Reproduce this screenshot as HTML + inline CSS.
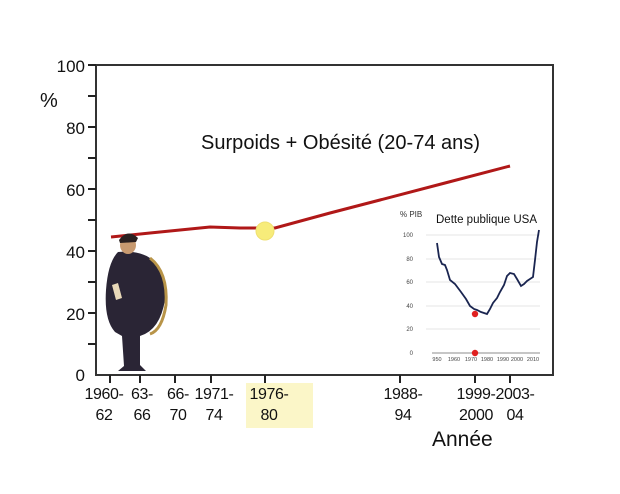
<!DOCTYPE html>
<html><head><meta charset="utf-8"><style>
body{margin:0;background:#fff;}
svg{display:block;font-family:"Liberation Sans",sans-serif;}
</style></head><body>
<svg width="620" height="494" viewBox="0 0 620 494">
<rect width="620" height="494" fill="#fff"/>
<rect x="246" y="383" width="67" height="45" fill="#fbf6c8"/>
<rect x="96" y="65" width="457" height="310" fill="none" stroke="#333" stroke-width="2"/>
<g stroke="#222" stroke-width="2">
<line x1="88" y1="65" x2="96" y2="65"/><line x1="88" y1="96" x2="96" y2="96"/>
<line x1="88" y1="127" x2="96" y2="127"/><line x1="88" y1="158" x2="96" y2="158"/>
<line x1="88" y1="189" x2="96" y2="189"/><line x1="88" y1="220" x2="96" y2="220"/>
<line x1="88" y1="251" x2="96" y2="251"/><line x1="88" y1="282" x2="96" y2="282"/>
<line x1="88" y1="313" x2="96" y2="313"/><line x1="88" y1="344" x2="96" y2="344"/>
<line x1="110" y1="375" x2="110" y2="383"/><line x1="140" y1="375" x2="140" y2="383"/>
<line x1="175" y1="375" x2="175" y2="383"/><line x1="211" y1="375" x2="211" y2="383"/>
<line x1="265" y1="375" x2="265" y2="383"/><line x1="400" y1="375" x2="400" y2="383"/>
<line x1="475" y1="375" x2="475" y2="383"/><line x1="510" y1="375" x2="510" y2="383"/>
</g>
<g font-size="17" fill="#111" text-anchor="end">
<text x="85" y="72">100</text><text x="85" y="134">80</text><text x="85" y="196">60</text>
<text x="85" y="258">40</text><text x="85" y="320">20</text><text x="85" y="381">0</text>
</g>
<text x="40" y="107" font-size="20" fill="#111">%</text>
<g font-size="16" fill="#111" text-anchor="middle" letter-spacing="-0.4">
<text x="104" y="399">1960-</text><text x="104" y="420">62</text>
<text x="142" y="399">63-</text><text x="142" y="420">66</text>
<text x="178" y="399">66-</text><text x="178" y="420">70</text>
<text x="214" y="399">1971-</text><text x="214" y="420">74</text>
<text x="269" y="399">1976-</text><text x="269" y="420">80</text>
<text x="403" y="399">1988-</text><text x="403" y="420">94</text>
<text x="476" y="399">1999-</text><text x="476" y="420">2000</text>
<text x="515" y="399">2003-</text><text x="515" y="420">04</text>
</g>
<text x="432" y="446" font-size="21" fill="#111">Année</text>
<text x="201" y="149" font-size="20" fill="#111" textLength="279">Surpoids + Obésité (20-74 ans)</text>
<path d="M111,237 L150,233 L210,227 L240,228 L275,228 L330,213 L380,200 L445,183 L510,166" fill="none" stroke="#b01818" stroke-width="3"/>
<circle cx="265" cy="231" r="9" fill="#f7ec7a" stroke="#efe070"/>
<path d="M118,252 Q108,262 106,290 Q104,320 115,332 L122,336 L124,366 L118,371 L146,371 L140,365 L140,336 Q160,330 165,300 Q168,272 150,258 Q138,250 118,252 Z" fill="#2a2535"/>
<path d="M150,258 Q168,272 166,305 Q162,330 150,334" fill="none" stroke="#b89448" stroke-width="3"/>
<ellipse cx="128" cy="245" rx="8" ry="9" fill="#c89a70"/>
<path d="M119,240 Q128,228 138,238 L136,242 L120,243 Z" fill="#2a2020"/>
<path d="M112,285 L118,283 L122,298 L116,300 Z" fill="#e8d8b8"/>
<g stroke="#ddd" stroke-width="0.7">
<line x1="426" y1="235" x2="540" y2="235"/><line x1="426" y1="259" x2="540" y2="259"/>
<line x1="426" y1="282" x2="540" y2="282"/><line x1="426" y1="306" x2="540" y2="306"/>
<line x1="426" y1="329" x2="540" y2="329"/>
</g>
<line x1="432" y1="353" x2="540" y2="353" stroke="#666" stroke-width="0.8"/>
<g font-size="6" fill="#444" text-anchor="end">
<text x="413" y="237">100</text><text x="413" y="261">80</text><text x="413" y="284">60</text>
<text x="413" y="308">40</text><text x="413" y="331">20</text><text x="413" y="355">0</text>
</g>
<g font-size="5.5" fill="#444" text-anchor="middle">
<text x="437" y="361">950</text><text x="454" y="361">1960</text><text x="471" y="361">1970</text>
<text x="487" y="361">1980</text><text x="503" y="361">1990</text><text x="517" y="361">2000</text><text x="533" y="361">2010</text>
</g>
<text x="400" y="217" font-size="8" fill="#333">% PIB</text>
<text x="436" y="223" font-size="11.5" fill="#111">Dette publique USA</text>
<path d="M437,243 L439,257 L442,264 L445,265 L447,270 L450,280 L455,284 L461,292 L466,299 L470,306 L474,309 L477,310 L481,312 L484,313 L487,314 L490,309 L493,303 L497,298 L500,292 L504,285 L507,276 L510,273 L514,274 L517,279 L521,286 L524,284 L527,281 L530,279 L533,277 L535,260 L537,242 L539,230" fill="none" stroke="#1a2550" stroke-width="1.8"/>
<circle cx="475" cy="314" r="3.2" fill="#e02020"/>
<circle cx="475" cy="353" r="3.2" fill="#e02020"/>
</svg>
</body></html>
